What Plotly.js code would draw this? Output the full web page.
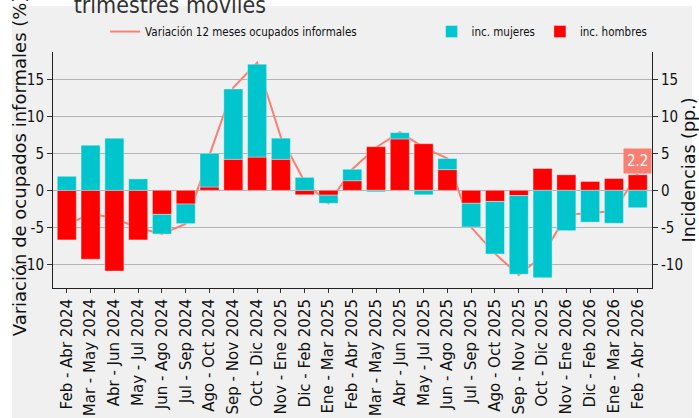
<!DOCTYPE html>
<html>
<head>
<meta charset="utf-8">
<script src="https://cdn.plot.ly/plotly-3.0.1.min.js"></script>
<style>html,body{margin:0;padding:0;background:#fff}#chart{width:699px;height:418px}</style>
</head>
<body>
<div id="chart"></div>
<script>
var categories = ["Feb - Abr 2024","Mar - May 2024","Abr - Jun 2024","May - Jul 2024","Jun - Ago 2024","Jul - Sep 2024","Ago - Oct 2024","Sep - Nov 2024","Oct - Dic 2024","Nov - Ene 2025","Dic - Feb 2025","Ene - Mar 2025","Feb - Abr 2025","Mar - May 2025","Abr - Jun 2025","May - Jul 2025","Jun - Ago 2025","Jul - Sep 2025","Ago - Oct 2025","Sep - Nov 2025","Oct - Dic 2025","Nov - Ene 2026","Dic - Feb 2026","Ene - Mar 2026","Feb - Abr 2026"];
var incHombres = [-6.7, -9.3, -10.9, -6.7, -3.25, -1.85, 0.45, 4.2, 4.5, 4.2, -0.6, -0.65, 1.3, 5.9, 6.95, 6.3, 2.8, -1.75, -1.5, -0.7, 2.95, 2.1, 1.2, 1.6, 2.1];
var incMujeres = [1.9, 6.1, 7.05, 1.55, -2.65, -2.65, 4.55, 9.5, 12.55, 2.85, 1.75, -1.1, 1.55, -0.2, 0.85, -0.6, 1.5, -3.2, -7.1, -10.65, -11.8, -5.45, -4.3, -4.45, -2.35];
var variacion = [-4.7, -3.1, -3.8, -5.05, -5.9, -4.5, 4.8, 13.9, 17.25, 7.15, 1.15, -1.75, 2.85, 5.8, 7.85, 5.8, 4.3, -5.0, -8.55, -11.45, -8.85, -3.3, -3.05, -2.8, 2.2];
var tickVals = [-10, -5, 0, 5, 10, 15];
var tickText = ["-10", "-5", "0", "5", "10", "15"];
var titleText = "trimestres móviles";
var yTitleLeft = "Variación de ocupados informales (%)";
var yTitleRight = "Incidencias (pp.)";

var narrow = "DejaVu Sans Condensed, Liberation Sans Narrow, sans-serif";
var dejavu = "DejaVu Sans, sans-serif";
var xIdx = categories.map(function(c, i){ return i; });

var traces = [
  {type:'bar', name:'inc. hombres', x:xIdx, y:incHombres, yaxis:'y2', legend:'legend2', legendrank:2,
   marker:{color:'#ff0000', line:{color:'rgba(255,255,255,0.35)', width:1}}, width:0.8},
  {type:'bar', name:'inc. mujeres', x:xIdx, y:incMujeres, yaxis:'y2', legend:'legend2', legendrank:1,
   marker:{color:'#00c5cd', line:{color:'rgba(255,255,255,0.35)', width:1}}, width:0.8},
  {type:'scatter', mode:'lines', name:'Variación 12 meses ocupados informales', x:xIdx, y:variacion, yaxis:'y', legend:'legend',
   line:{color:'#fa7f72', width:2}}
];

var yr = [-13.2, 18.7];
var layout = {
  width:699, height:418,
  margin:{l:53, r:47, t:52, b:130, pad:0},
  paper_bgcolor:'#ffffff', plot_bgcolor:'#f0f0f0',
  barmode:'relative',
  showlegend:true,
  title:{text:titleText, x:0.243, xanchor:'center', xref:'container', yref:'container', y:0.969, yanchor:'bottom',
         font:{family:narrow, size:23, color:'#333333'}},
  xaxis:{range:[-0.58, 24.6], tickmode:'array', tickvals:xIdx, ticktext:categories, tickangle:-90,
         ticks:'outside', ticklen:4, tickcolor:'#333', showgrid:false, zeroline:false,
         showline:true, linecolor:'#222', linewidth:1,
         tickfont:{family:dejavu, size:15, color:'#111'}},
  yaxis:{range:yr, tickmode:'array', tickvals:tickVals, ticktext:tickText,
         ticks:'outside', ticklen:5, tickcolor:'#333', showgrid:true, gridcolor:'#b4b4b4', gridwidth:1,
         zeroline:false, showline:true, linecolor:'#222', linewidth:1,
         tickfont:{family:narrow, size:15, color:'#111'}},
  yaxis2:{range:yr, overlaying:'y', side:'right', tickmode:'array', tickvals:tickVals, ticktext:tickText,
         ticks:'outside', ticklen:5, tickcolor:'#333', showgrid:false, zeroline:false,
         showline:true, linecolor:'#222', linewidth:1,
         tickfont:{family:narrow, size:15, color:'#111'},
         title:{text:yTitleRight, font:{family:dejavu, size:17.5, color:'#111'}, standoff:2}},
  legend:{x:0.087, y:1.148, xanchor:'left', yanchor:'top', bgcolor:'rgba(0,0,0,0)',
          font:{family:narrow, size:11.5, color:'#111'}},
  legend2:{x:0.632, y:1.148, xanchor:'left', yanchor:'top', orientation:'h', bgcolor:'rgba(0,0,0,0)',
          font:{family:narrow, size:11.5, color:'#111'}},
  shapes:[{type:'rect', xref:'paper', yref:'paper', x0:-0.0684, x1:1.0668, y0:-0.6, y1:1.195,
           fillcolor:'#f0f0f0', line:{width:0}, layer:'below'}],
  annotations:[
    {x:categories.length-1, y:variacion[variacion.length-1], xref:'x', yref:'y2',
     text:String(variacion[variacion.length-1]), showarrow:false, xanchor:'center', yanchor:'bottom',
     bgcolor:'#fa7f72', borderpad:3, font:{family:narrow, size:15, color:'#ffffff'}},
    {x:-0.0555, y:-0.212, xref:'paper', yref:'paper', xanchor:'center', yanchor:'bottom', textangle:-90,
     text:yTitleLeft, showarrow:false, font:{family:dejavu, size:18, color:'#111'}}
  ]
};

Plotly.newPlot('chart', traces, layout, {displayModeBar:false, staticPlot:true});
</script>
</body>
</html>
